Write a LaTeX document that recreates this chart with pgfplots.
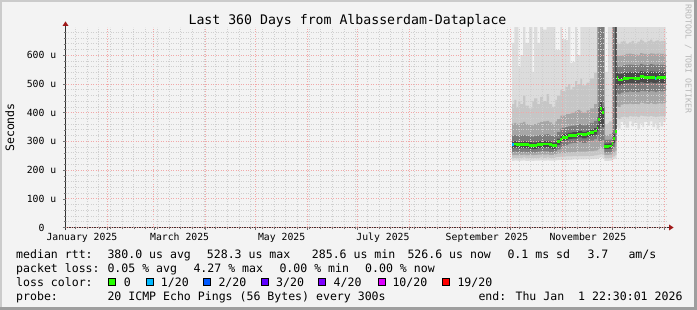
\documentclass[border=0pt]{standalone}
\usepackage{fontspec}
\usepackage{pgfplots}
\pgfplotsset{compat=1.18}
\usepackage{pgfplotstable}
\usepgfplotslibrary{fillbetween}
\newfontfamily\mono{DejaVu Sans Mono}
\newcommand\fa{\mono\fontsize{9.8bp}{10bp}\selectfont}
\newcommand\fl{\mono\fontsize{11.55bp}{12bp}\selectfont}
\newcommand\ft{\mono\fontsize{13.2bp}{14bp}\selectfont}
\newcommand\fs{\mono\fontsize{8.2bp}{9bp}\selectfont}
\definecolor{bg}{HTML}{F3F3F3}
\definecolor{shadea}{HTML}{CBCBCB}
\definecolor{shadeb}{HTML}{9E9E9E}
\definecolor{mgrid}{HTML}{F2A8A8}
\definecolor{mingrid}{HTML}{CFCFCF}
\definecolor{sm1}{HTML}{DCDCDC}
\definecolor{sm2}{HTML}{C6C6C6}
\definecolor{sm3}{HTML}{A6A6A6}
\definecolor{sm4}{HTML}{7C7C7C}
\definecolor{sm5}{HTML}{4A4A4A}
\definecolor{arrowred}{HTML}{A01818}
\definecolor{lossA}{HTML}{26FF00}
\definecolor{lossB}{HTML}{00B8FF}
\definecolor{lossC}{HTML}{0059FF}
\definecolor{lossD}{HTML}{5E00FF}
\definecolor{lossE}{HTML}{7E00FF}
\definecolor{lossF}{HTML}{DD00FF}
\definecolor{lossG}{HTML}{FF0000}

% x = days since 1 Jan 2025
\pgfplotstableread{
x      lo1 lo2 lo3 lo4 lo5 hi5 hi4 hi3 hi2 hi1 med
273.9  232 242 252 263 276 299 320 362 430 643 289
275.2  234 243 253 265 278 301 322 365 445 800 291
276.4  233 242 252 263 276 299 320 360 420 720 290
277.6  232 242 252 262 276 298 320 362 440 559 289
278.8  233 243 253 263 277 299 322 365 430 601 290
280.5  234 244 254 264 277 300 322 368 460 800 290
281.8  232 242 252 262 276 299 320 360 425 643 289
284.0  233 243 253 262 275 298 318 358 415 800 287
286.0  232 242 252 261 273 296 316 356 440 542 286
287.1  233 243 253 262 274 297 318 360 450 800 286
289.0  233 243 254 264 277 300 322 365 430 643 290
290.7  234 244 254 265 278 301 323 368 455 800 290
292.5  233 243 254 265 278 301 324 370 440 690 291
294.5  234 244 255 265 279 302 325 372 465 800 291
296.0  233 243 253 263 276 299 321 366 430 800 289
297.9  233 243 253 262 273 296 318 360 420 710 285
299.8  234 245 256 266 278 300 322 370 445 618 285
300.9  235 246 258 272 288 310 332 378 460 618 300
302.8  236 247 259 276 296 320 345 390 480 800 308
303.9  236 247 260 285 303 325 347 390 475 656 315
305.8  236 248 261 287 305 327 350 395 490 653 315
307.5  236 248 262 292 308 330 352 395 500 800 320
308.8  236 248 262 293 309 331 354 398 480 573 320
310.0  237 249 263 295 310 332 355 400 490 577 322
311.6  237 249 263 295 310 332 356 405 510 800 322
312.9  237 249 264 298 314 336 360 410 500 601 326
314.8  237 249 264 298 314 336 360 405 520 800 326
315.9  237 249 264 295 311 333 356 400 495 800 323
318.5  238 250 265 299 315 337 360 408 505 720 327
320.7  238 250 266 303 319 341 365 415 520 800 331
323.0  239 251 268 308 324 346 372 430 540 800 336
324.9  240 252 270 318 335 357 385 800 800 800 347
325.6  242 254 275 300 345 420 800 800 800 800 376
326.5  244 256 280 300 360 440 800 800 800 800 414
327.9  242 254 275 305 350 420 800 800 800 800 400
329.2  232 242 253 262 274 292 305 322 360 542 283
331.3  232 242 253 262 274 292 305 322 365 800 283
332.0  233 243 254 263 275 293 306 325 370 800 284
333.9  235 245 258 270 281 303 330 800 800 800 292
334.5  238 248 262 280 295 325 800 800 800 800 310
335.7  240 252 268 300 330 800 800 800 800 800 334
336.6  350 380 425 470 500 540 565 600 645 800 523
337.5  345 378 420 465 495 535 560 598 640 800 514
339.0  368 385 428 470 498 536 562 600 648 800 514
340.4  360 386 430 472 502 540 566 602 650 800 519
342.0  348 384 430 472 503 541 567 605 640 800 519
344.0  370 388 432 474 504 542 568 606 645 800 521
345.5  352 386 430 473 503 541 567 604 650 800 521
347.0  365 387 431 473 503 541 566 603 642 800 520
349.0  345 385 430 472 502 540 565 602 648 800 520
350.6  362 390 435 476 507 545 570 608 655 800 525
352.0  350 388 433 475 505 543 568 606 650 800 525
353.0  368 387 432 474 504 542 567 605 645 800 522
355.0  355 386 431 473 504 542 567 604 650 800 522
356.6  370 389 434 476 506 544 569 607 655 800 524
358.0  350 386 431 474 504 543 568 606 648 800 524
359.6  362 385 430 472 502 540 565 603 650 800 520
360.6  345 386 432 474 505 543 568 606 652 800 523
362.0  366 388 433 475 505 543 568 606 648 800 523
363.0  352 387 432 474 504 542 567 605 650 800 522
364.5  368 388 433 475 504 542 567 605 650 800 522
366.2  368 388 433 475 504 542 567 605 650 800 522
}\smoke

\begin{document}
\begin{tikzpicture}
\fill[bg] (0,0) rectangle (697bp,310bp);
\fill[shadea] (0,0) rectangle (2bp,310bp);
\fill[shadea] (0,308bp) rectangle (697bp,310bp);
\fill[shadeb] (694bp,0) rectangle (697bp,310bp);
\fill[shadeb] (0,0) rectangle (697bp,3bp);
\begin{axis}[
  at={(65.5bp,82.5bp)}, anchor=south west,
  scale only axis, width=600.1bp, height=200bp,
  xmin=5.94, xmax=365.94, ymin=0, ymax=697,
  set layers, axis on top,
  fill between/on layer=main,
  axis background/.style={fill=white},
  axis line style={draw=none},
  tick pos=left, tick align=outside,
  major tick length=2.5bp, minor tick length=2bp,
  tick style={black!55, line width=0.6bp},
  xtick={31,59,90,120,151,181,212,243,273,304,334,365},
  xticklabels={},
  minor xtick={12,19,26,33,40,47,54,61,68,75,82,89,96,103,110,117,124,131,138,145,152,159,166,173,180,187,194,201,208,215,222,229,236,250,257,264,271,278,285,292,299,306,313,320,327,341,348,355,362},
  extra x ticks={15.8,74.4,135.6,196.4,258.8,319.3},
  extra x tick labels={January 2025,March 2025,May 2025,July 2025,September 2025,November 2025},
  extra x tick style={grid=none, major tick length=0pt},
  xticklabel style={font=\fa, inner sep=0pt, anchor=base, yshift=-13bp},
  ytick={0,100,200,300,400,500,600},
  yticklabels={0\phantom{\ u},100 u,200 u,300 u,400 u,500 u,600 u},
  minor ytick={20,40,60,80,120,140,160,180,220,240,260,280,320,340,360,380,420,440,460,480,520,540,560,580,620,640,660,680},
  yticklabel style={font=\fa, inner sep=0pt, anchor=east, xshift=-6.5bp},
  grid=both,
  major grid style={mgrid, dash pattern=on 1bp off 1.5bp, line width=0.9bp},
  minor grid style={mingrid, dash pattern=on 1bp off 1.5bp, line width=0.9bp},
]
\addplot[draw=none, const plot, name path=l1] table[x=x,y=lo1]{\smoke};
\addplot[draw=none, const plot, name path=l2] table[x=x,y=lo2]{\smoke};
\addplot[draw=none, const plot, name path=l3] table[x=x,y=lo3]{\smoke};
\addplot[draw=none, const plot, name path=l4] table[x=x,y=lo4]{\smoke};
\addplot[draw=none, const plot, name path=l5] table[x=x,y=lo5]{\smoke};
\addplot[draw=none, const plot, name path=h5] table[x=x,y=hi5]{\smoke};
\addplot[draw=none, const plot, name path=h4] table[x=x,y=hi4]{\smoke};
\addplot[draw=none, const plot, name path=h3] table[x=x,y=hi3]{\smoke};
\addplot[draw=none, const plot, name path=h2] table[x=x,y=hi2]{\smoke};
\addplot[draw=none, const plot, name path=h1] table[x=x,y=hi1]{\smoke};
\addplot[fill=sm1, draw=none] fill between[of=l1 and h1];
\addplot[fill=sm2, draw=none] fill between[of=l2 and h2];
\addplot[fill=sm3, draw=none] fill between[of=l3 and h3];
\addplot[fill=sm4, draw=none] fill between[of=l4 and h4];
\addplot[fill=sm5, draw=none] fill between[of=l5 and h5];
\addplot[lossA, line width=2.8bp, jump mark left, on layer=axis foreground] table[x=x,y=med]{\smoke};
\addplot[lossB, line width=2.8bp, on layer=axis foreground] coordinates {(273.9,289) (274.7,289)};
\addplot[lossB, line width=2.8bp, on layer=axis foreground] coordinates {(359.6,520) (360.4,520)};
\end{axis}
% axis lines with arrows
\draw[black!80, line width=1bp] (65.5bp,79.5bp) -- (65.5bp,285bp);
\fill[arrowred] (62.5bp,284bp) -- (68.5bp,284bp) -- (65.5bp,288.5bp) -- cycle;
\draw[black!80, line width=1bp] (62.5bp,82.5bp) -- (669bp,82.5bp);
\fill[arrowred] (669bp,85.5bp) -- (669bp,79.5bp) -- (673.5bp,82.5bp) -- cycle;
% titles
\node[font=\ft, anchor=base, inner sep=0pt] at (347.5bp,285bp) {Last 360 Days from Albasserdam-Dataplace};
\node[font=\fl, rotate=90, anchor=base, inner sep=0pt] at (14bp,182.5bp) {Seconds};
\node[font=\fs, text=black!28, rotate=-90, anchor=base, inner sep=0pt] at (685.5bp,251bp) {RRDTOOL / TOBI OETIKER};
% legend
\begin{scope}[every node/.style={font=\fl, anchor=base west, inner sep=0pt}]
\node at (16bp,51.7bp) {median rtt:};
\node at (107.3bp,51.7bp) {380.0 us avg};
\node at (206.7bp,51.7bp) {528.3 us max};
\node at (311.7bp,51.7bp) {285.6 us min};
\node at (407.3bp,51.7bp) {526.6 us now};
\node at (507.3bp,51.7bp) {0.1 ms sd};
\node at (587.3bp,51.7bp) {3.7};
\node at (628.3bp,51.7bp) {am/s};
\node at (16bp,37.7bp) {packet loss:};
\node at (107.3bp,37.7bp) {0.05 \% avg};
\node at (193.3bp,37.7bp) {4.27 \% max};
\node at (279.3bp,37.7bp) {0.00 \% min};
\node at (365bp,37.7bp) {0.00 \% now};
\node at (16bp,23.7bp) {loss color:};
\node at (123.7bp,23.7bp) {0};
\node at (160.7bp,23.7bp) {1/20};
\node at (218.3bp,23.7bp) {2/20};
\node at (276bp,23.7bp) {3/20};
\node at (333.5bp,23.7bp) {4/20};
\node at (392.3bp,23.7bp) {10/20};
\node at (457.3bp,23.7bp) {19/20};
\node at (16bp,9.7bp) {probe:};
\node at (107.3bp,9.7bp) {20 ICMP Echo Pings (56 Bytes) every 300s};
\node at (478.3bp,9.7bp) {end: Thu Jan\ \ 1 22:30:01 2026};
\end{scope}
\begin{scope}[line width=0.8bp]
\filldraw[fill=lossA, draw=black] (108.6bp,24.4bp) rectangle ++(7bp,7bp);
\filldraw[fill=lossB, draw=black] (146bp,24.4bp) rectangle ++(7bp,7bp);
\filldraw[fill=lossC, draw=black] (203.6bp,24.4bp) rectangle ++(7bp,7bp);
\filldraw[fill=lossD, draw=black] (261bp,24.4bp) rectangle ++(7bp,7bp);
\filldraw[fill=lossE, draw=black] (318.6bp,24.4bp) rectangle ++(7bp,7bp);
\filldraw[fill=lossF, draw=black] (378bp,24.4bp) rectangle ++(7bp,7bp);
\filldraw[fill=lossG, draw=black] (442.6bp,24.4bp) rectangle ++(7bp,7bp);
\end{scope}
\pgfresetboundingbox
\useasboundingbox (0,0) rectangle (697bp,310bp);
\end{tikzpicture}
\end{document}
